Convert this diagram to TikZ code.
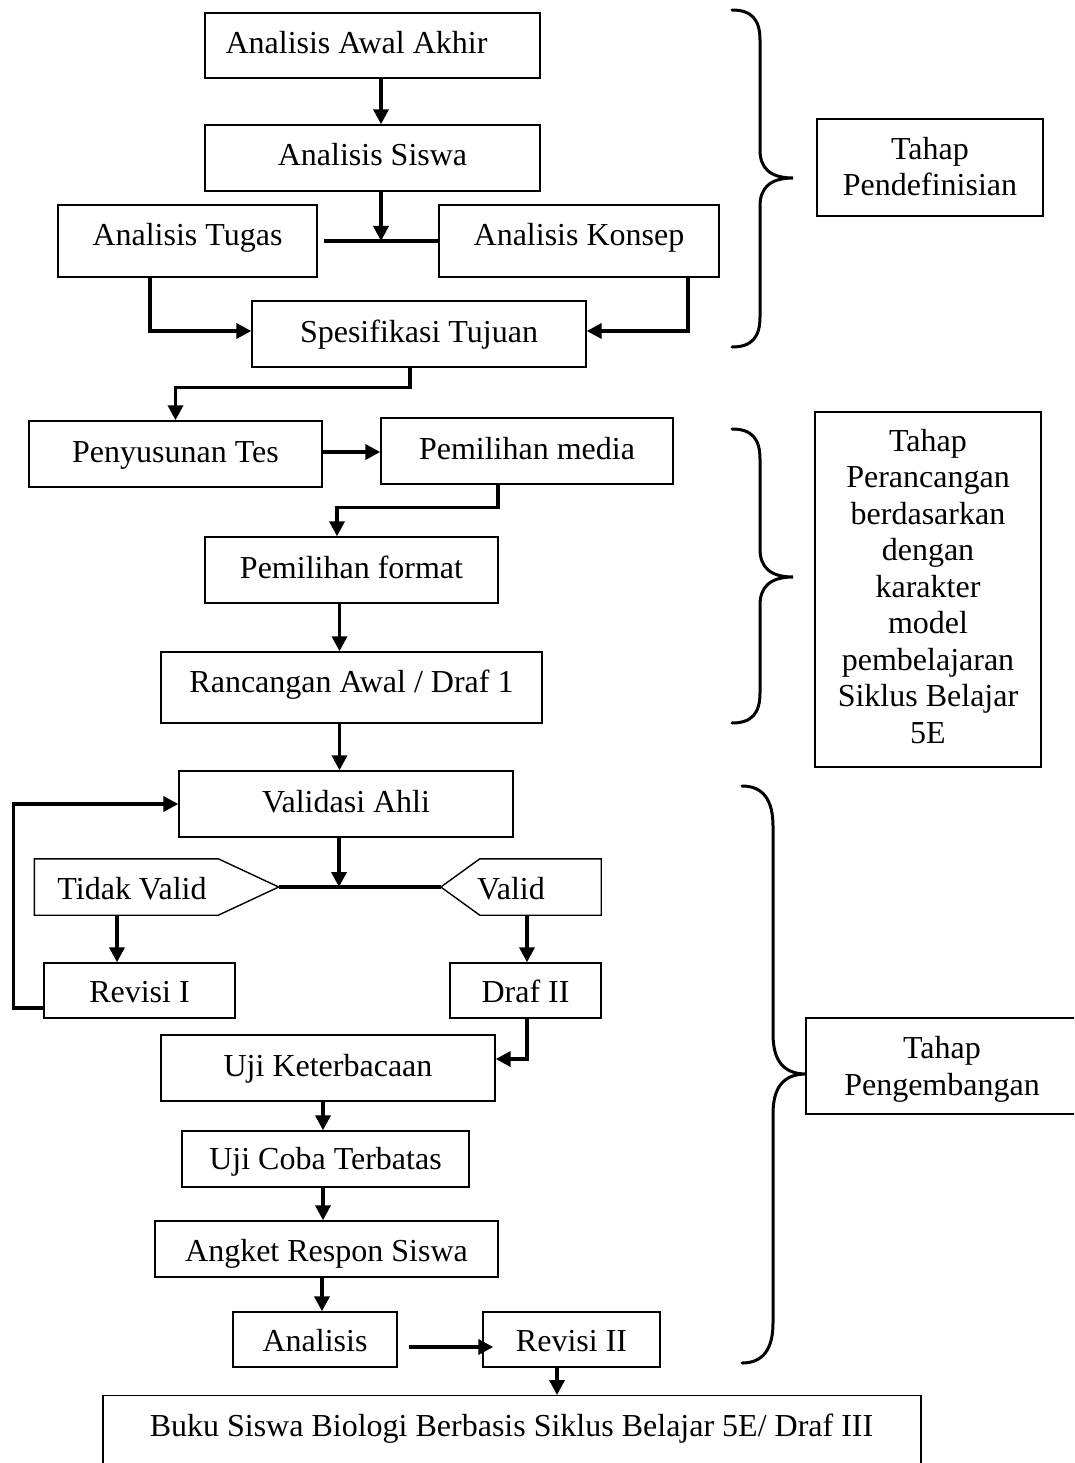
\documentclass[tikz,border=0pt]{standalone}
\usepackage{fontspec}
\setmainfont{Liberation Serif}
\usetikzlibrary{arrows.meta}
\newcommand\diafont{\fontsize{32}{36.5}\selectfont}
\begin{document}
\begin{tikzpicture}[x=1pt,y=-1pt,
  box/.style={draw, line width=1.4pt, inner sep=0pt, text height=22pt, text depth=6pt, font=\diafont},
  low/.style={text height=26pt, text depth=2pt},
  mid/.style={text height=24pt, text depth=4pt},
  hi/.style={text height=19pt, text depth=9pt},
  frame/.style={draw, line width=1.4pt, inner sep=0pt},
  ltxt/.style={inner sep=0pt, align=center, font=\diafont},
  txt/.style={inner sep=0pt, font=\diafont, text height=22pt, text depth=6pt},
  arr/.style={line width=3.5pt, -{Triangle[length=15pt,width=15pt]}},
  ln/.style={line width=3.5pt},
  brace/.style={line width=3pt, line cap=round},
  pentline/.style={line width=1.4pt}
]
\useasboundingbox (0,0) rectangle (1074,1463);
\clip (0,0) rectangle (1074,1463);

% definition stage
\node[frame, minimum width=335pt, minimum height=65pt] (aaa) at (372.5,45.5) {};
\node[txt] (aaat) at (356.5,45.5) {Analisis Awal Akhir};
\node[box, minimum width=335pt, minimum height=66pt] (as) at (372.5,158) {Analisis Siswa};
\node[box, hi, minimum width=259pt, minimum height=72pt] (at) at (187.5,241) {Analisis Tugas};
\node[box, hi, minimum width=280pt, minimum height=72pt] (ak) at (579,241) {Analisis Konsep};
\node[box, minimum width=334pt, minimum height=66pt] (st) at (419,334) {Spesifikasi Tujuan};
\coordinate (j1) at (381,241);

% design stage
\node[box, minimum width=293pt, minimum height=66pt] (pt) at (175.5,454) {Penyusunan Tes};
\node[box, minimum width=292pt, minimum height=66pt] (pm) at (527,451) {Pemilihan media};
\node[box, minimum width=293pt, minimum height=66pt] (pf) at (351.5,570) {Pemilihan format};
\node[box, hi, minimum width=381pt, minimum height=71pt] (ra) at (351.5,687.5) {Rancangan Awal / Draf 1};

% development stage
\node[box, minimum width=334pt, minimum height=66pt] (va) at (346,804) {Validasi Ahli};
\node[inner sep=0pt, minimum width=244pt, minimum height=56pt] (tv) at (156.5,887) {};
\draw[pentline] (tv.north west) -- ([xshift=184pt]tv.north west) -- (tv.east) -- ([xshift=184pt]tv.south west) -- (tv.south west) -- cycle;
\node[txt, low] (tvt) at (132,887) {Tidak Valid};
\node[inner sep=0pt, minimum width=160pt, minimum height=56pt] (vl) at (521,887) {};
\draw[pentline] (vl.west) -- ([xshift=39pt]vl.north west) -- (vl.north east) -- (vl.south east) -- ([xshift=39pt]vl.south west) -- cycle;
\node[txt, low] (vlt) at (511,887) {Valid};
\coordinate (j2) at (339,887);
\node[box, low, minimum width=191pt, minimum height=55pt] (r1) at (139.5,990.5) {Revisi I};
\node[box, low, minimum width=151pt, minimum height=55pt] (d2) at (525.5,990.5) {Draf II};
\node[box, minimum width=334pt, minimum height=66pt] (uk) at (328,1068) {Uji Keterbacaan};
\node[box, mid, minimum width=287pt, minimum height=56pt] (uc) at (325.5,1159) {Uji Coba Terbatas};
\node[box, low, minimum width=343pt, minimum height=56pt] (ar) at (326.5,1249) {Angket Respon Siswa};
\node[box, low, minimum width=164pt, minimum height=55pt] (an) at (315,1339.5) {Analisis};
\node[box, low, minimum width=177pt, minimum height=55pt] (r2) at (571.5,1339.5) {Revisi II};
\node[frame, minimum width=818pt, minimum height=95pt, anchor=north] (bk) at (512,1395) {};
\node[txt] (bkt) at (511.5,1428) {Buku Siswa Biologi Berbasis Siklus Belajar 5E/ Draf III};

% stage labels
\node[frame, minimum width=226pt, minimum height=97pt] (tp1) at (930,167.5) {};
\node[ltxt] (tp1t) at (930,166.5) {Tahap\\Pendefinisian};
\node[frame, minimum width=226pt, minimum height=355pt] (tp2) at (928,589.5) {};
\node[ltxt] (tp2t) at (928,586.5) {Tahap\\Perancangan\\berdasarkan\\dengan\\karakter\\model\\pembelajaran\\Siklus Belajar\\5E};
\node[frame, minimum width=272pt, minimum height=96pt] (tp3) at (942,1066) {};
\node[ltxt] (tp3t) at (942,1069.5) {Tahap\\Pengembangan};

% braces
\draw[brace] (732,10) .. controls (752,10) and (760,20) .. (760,40) -- (760,150) .. controls (760,168) and (770,178) .. (793,178) .. controls (770,178) and (760,188) .. (760,206) -- (760,317) .. controls (760,337) and (752,347) .. (732,347);
\draw[brace] (732,429) .. controls (752,429) and (760,439) .. (760,459) -- (760,549) .. controls (760,567) and (770,577) .. (793,577) .. controls (770,577) and (760,587) .. (760,605) -- (760,693) .. controls (760,713) and (752,723) .. (732,723);
\draw[brace] (742,786) .. controls (763,786) and (773,800) .. (773,826) -- (773,1034) .. controls (773,1060) and (783,1074) .. (806,1074) .. controls (783,1074) and (773,1088) .. (773,1114) -- (773,1323) .. controls (773,1349) and (763,1363) .. (742,1363);

% connectors
\draw[arr] ([xshift=8.5pt]aaa.south) -- ([xshift=8.5pt]as.north);
\draw[arr] (j1 |- as.south) -- (j1);
\draw[ln] ([xshift=6pt]at.east) -- (ak.west);
\draw[arr] ([xshift=-37.5pt]at.south) |- ([yshift=3pt]st.west);
\draw[arr] ([xshift=109pt]ak.south) |- ([yshift=3pt]st.east);
\draw[arr] ([xshift=-9pt]st.south) -- ++(0,20) -| (pt.north);
\draw[arr] ([yshift=2pt]pt.east) -- ([yshift=2pt]pt.east -| pm.west);
\draw[arr] ([xshift=-29pt]pm.south) -- ++(0,23) -| ([xshift=-14.5pt]pf.north);
\draw[arr] ([xshift=-12pt]pf.south) -- ([xshift=-12pt]pf.south |- ra.north);
\draw[arr] ([xshift=-12pt]ra.south) -- ([xshift=-12pt]ra.south |- va.north);
\draw[arr] (j2 |- va.south) -- (j2);
\draw[ln] (tv.east) -- (vl.west);
\draw[arr] ([xshift=-22.5pt]r1.north |- tv.south) -- ([xshift=-22.5pt]r1.north);
\draw[arr] ([yshift=-17.5pt]r1.west) -- ++(-30,0) |- (va.west);
\draw[arr] ([xshift=1.5pt]d2.north |- vl.south) -- ([xshift=1.5pt]d2.north);
\draw[arr] ([xshift=1.5pt]d2.south) |- ([yshift=9pt]uk.east);
\draw[arr] ([xshift=-5pt]uk.south) -- ([xshift=-5pt]uk.south |- uc.north);
\draw[arr] ([xshift=-2.5pt]uc.south) -- ([xshift=-2.5pt]uc.south |- ar.north);
\draw[arr] ([xshift=-4.5pt]ar.south) -- ([xshift=-4.5pt]ar.south |- an.north);
\draw[arr] ([xshift=11pt,yshift=-7.5pt]an.east) -- ([xshift=11pt,yshift=-7.5pt]an.east -| r2.west);
\draw[arr] ([xshift=-14.5pt]r2.south) -- ([xshift=-14.5pt]r2.south |- bk.north);
\end{tikzpicture}
\end{document}
